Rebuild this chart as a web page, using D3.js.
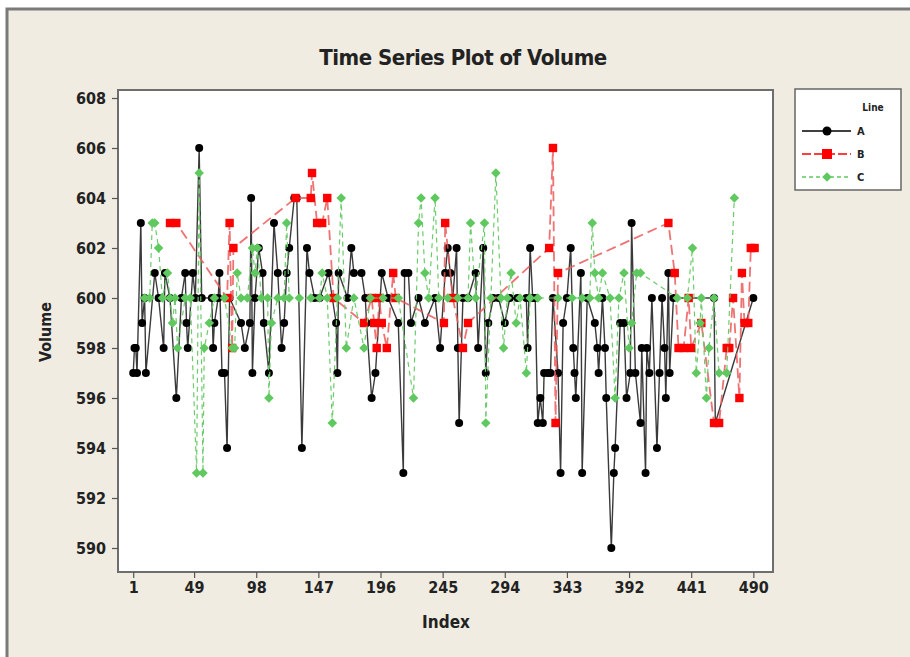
<!doctype html>
<html>
<head>
<script src="https://cdnjs.cloudflare.com/ajax/libs/d3/7.8.5/d3.min.js"></script>
<style>
body { margin: 0; background: #fff; }
text { font-family: "DejaVu Sans Condensed", "DejaVu Sans", sans-serif; fill: #222; }
.tick text { font-size: 16px; font-weight: bold; }
</style>
</head>
<body>
<svg width="910" height="657"></svg>
<script>
// group A
var aIndex = [1,2,3,4,7,8,10,11,18,21,25,26,30,35,39,42,43,44,48,50,53,55,63,64,65,68,69,71,73,75,77,86,89,93,94,95,97,100,103,104,108,112,115,118,120,122,124,128,130,134,138,140,144,148,155,161,162,163,170,173,175,181,184,185,189,192,197,202,210,214,215,218,220,226,231,239,243,247,249,251,253,256,257,258,261,265,271,273,277,279,281,285,289,294,298,304,311,312,314,316,318,320,322,324,325,328,330,332,336,338,340,343,346,348,349,350,354,355,359,365,367,368,371,373,374,378,380,381,385,388,390,393,394,397,401,402,405,406,408,410,414,416,418,420,421,423,424,427,459,460,490];
var aVolume = [597,598,598,597,603,599,600,597,601,600,598,601,600,596,600,601,599,598,601,600,606,600,600,598,599,600,601,597,597,594,600,599,598,599,604,597,600,602,601,599,597,603,601,598,599,601,602,604,604,594,602,601,600,600,601,599,597,601,600,602,601,601,600,599,596,597,601,600,599,593,601,601,599,600,599,600,598,601,602,601,600,602,598,595,600,600,601,598,602,597,599,600,600,599,600,600,600,598,602,600,600,595,596,595,597,597,597,600,597,593,599,600,602,598,597,596,601,593,600,599,598,597,600,598,596,590,593,594,599,599,596,597,603,597,595,598,593,598,597,600,594,597,600,598,596,601,597,600,600,595,600];

// group B
var bIndex = [30,35,75,77,79,80,129,141,142,146,150,154,159,183,189,191,193,195,197,201,206,208,246,247,253,261,265,329,332,334,336,423,428,431,435,439,441,449,459,463,469,471,474,479,481,483,486,488,491];
var bVolume = [603,603,600,603,598,602,604,604,605,603,603,604,600,599,600,599,598,600,599,598,601,600,599,603,600,598,599,602,606,595,601,603,601,598,598,600,598,599,595,595,598,598,600,596,601,599,599,602,602];

// group C
var cIndex = [10,14,16,18,21,24,28,30,32,34,36,42,46,51,53,56,57,61,65,73,79,81,83,86,91,95,97,99,102,107,108,110,115,120,122,124,132,141,148,150,154,158,162,165,169,175,183,188,198,210,222,226,228,231,234,239,242,249,257,265,267,271,278,279,283,287,291,293,296,299,303,306,311,314,320,336,347,355,361,363,365,368,371,377,381,384,388,392,394,398,401,430,438,442,445,448,449,453,455,459,463,469,475];
var cVolume = [600,600,603,603,602,600,601,600,599,600,598,600,600,593,605,593,598,599,600,600,598,598,601,600,600,602,601,602,600,600,596,599,600,600,603,600,600,600,600,601,600,595,600,604,598,600,598,600,600,600,596,603,604,601,600,604,600,600,600,600,603,600,603,595,600,605,600,598,600,601,599,600,597,600,600,600,600,600,600,603,601,600,601,600,596,600,601,598,599,601,601,600,600,602,597,599,600,596,598,600,597,597,604];

var xTicks = [1,49,98,147,196,245,294,343,392,441,490];
var yTicks = [590,592,594,596,598,600,602,604,606,608];
var groups = ["A","B","C"];

var svg = d3.select("svg");

svg.append("rect").attr("x", 7).attr("y", 9).attr("width", 960).attr("height", 700)
  .attr("fill", "#f0ece2").attr("stroke", "#7a7a7a").attr("stroke-width", 3);

var pLeft = 118, pTop = 90, pRight = 773, pBottom = 572;

svg.append("rect").attr("x", pLeft).attr("y", pTop).attr("width", pRight - pLeft).attr("height", pBottom - pTop)
  .attr("fill", "#fff").attr("stroke", "#6e6e6e").attr("stroke-width", 2);

var x = d3.scaleLinear().domain([-11, 505.5]).range([pLeft, pRight]);
var y = d3.scaleLinear().domain([589.04, 608.32]).range([pBottom, pTop]);

svg.append("g").attr("transform", "translate(0," + pBottom + ")")
  .call(d3.axisBottom(x).tickValues(xTicks).tickSize(6).tickPadding(4))
  .call(g => g.select(".domain").remove());
svg.append("g").attr("transform", "translate(" + pLeft + ",0)")
  .call(d3.axisLeft(y).tickValues(yTicks).tickSize(6).tickPadding(6))
  .call(g => g.select(".domain").remove());
svg.selectAll(".tick line").attr("stroke", "#555").attr("stroke-width", 1.2);

svg.append("text").attr("x", 463).attr("y", 65).attr("text-anchor", "middle")
  .style("font-size", "22px").style("font-weight", "bold").style("letter-spacing", "-0.5px")
  .text("Time Series Plot of Volume");
svg.append("text").attr("x", 446).attr("y", 628).attr("text-anchor", "middle")
  .style("font-size", "17px").style("font-weight", "bold").text("Index");
svg.append("text").attr("transform", "translate(51,332) rotate(-90)").attr("text-anchor", "middle")
  .style("font-size", "16px").style("font-weight", "bold").text("Volume");

function pts(idx, vals) { return idx.map((d, i) => [d, vals[i]]); }
var line = d3.line().x(d => x(d[0])).y(d => y(d[1]));
var diamond = d3.symbol().type(d3.symbolSquare).size(46);

var plot = svg.append("g");

// A
var aPts = pts(aIndex, aVolume);
plot.append("path").datum(aPts).attr("d", line).attr("fill", "none")
  .attr("stroke", "#3a3a3a").attr("stroke-width", 1.4);
plot.selectAll("circle.a").data(aPts).enter().append("circle").attr("class", "a")
  .attr("cx", d => x(d[0])).attr("cy", d => y(d[1])).attr("r", 4).attr("fill", "#000");

// B
var bPts = pts(bIndex, bVolume);
plot.append("path").datum(bPts).attr("d", line).attr("fill", "none")
  .attr("stroke", "#ec5a5a").attr("stroke-width", 1.8).attr("stroke-dasharray", "10,5").attr("opacity", 0.85);
plot.selectAll("rect.b").data(bPts).enter().append("rect").attr("class", "b")
  .attr("x", d => x(d[0]) - 4.2).attr("y", d => y(d[1]) - 4.2).attr("width", 8.4).attr("height", 8.4)
  .attr("fill", "#ff0000");

// C
var cPts = pts(cIndex, cVolume);
plot.append("path").datum(cPts).attr("d", line).attr("fill", "none")
  .attr("stroke", "#6ccb6c").attr("stroke-width", 1.2).attr("stroke-dasharray", "5,4");
plot.selectAll("path.c").data(cPts).enter().append("path").attr("class", "c")
  .attr("transform", d => "translate(" + x(d[0]) + "," + y(d[1]) + ") rotate(45)").attr("d", diamond)
  .attr("fill", "#5fc95f");

// legend
var lg = svg.append("g");
lg.append("rect").attr("x", 795).attr("y", 89).attr("width", 106).attr("height", 101)
  .attr("fill", "#fff").attr("stroke", "#666").attr("stroke-width", 1.5);
lg.append("text").attr("x", 873).attr("y", 111).attr("text-anchor", "middle")
  .style("font-size", "10px").style("font-weight", "bold").text("Line");
var ly = d3.scalePoint().domain(groups).range([131, 177]);
var lcol = {A: "#000", B: "#ff0000", C: "#5fc95f"};
var ldash = {A: null, B: "9,3", C: "4,3"};
groups.forEach(function(g) {
  lg.append("line").attr("x1", 802).attr("x2", 851).attr("y1", ly(g)).attr("y2", ly(g))
    .attr("stroke", lcol[g]).attr("stroke-width", 1.5).attr("stroke-dasharray", ldash[g]);
  if (g === "A") lg.append("circle").attr("cx", 827).attr("cy", ly(g)).attr("r", 4.5).attr("fill", "#000");
  if (g === "B") lg.append("rect").attr("x", 822).attr("y", ly(g) - 5).attr("width", 10).attr("height", 10).attr("fill", "#ff0000");
  if (g === "C") lg.append("path").attr("transform", "translate(827," + ly(g) + ") rotate(45)").attr("d", diamond).attr("fill", lcol[g]);
  lg.append("text").attr("x", 857).attr("y", ly(g) + 4).style("font-size", "11px").style("font-weight", "bold").text(g);
});
</script>
</body>
</html>
